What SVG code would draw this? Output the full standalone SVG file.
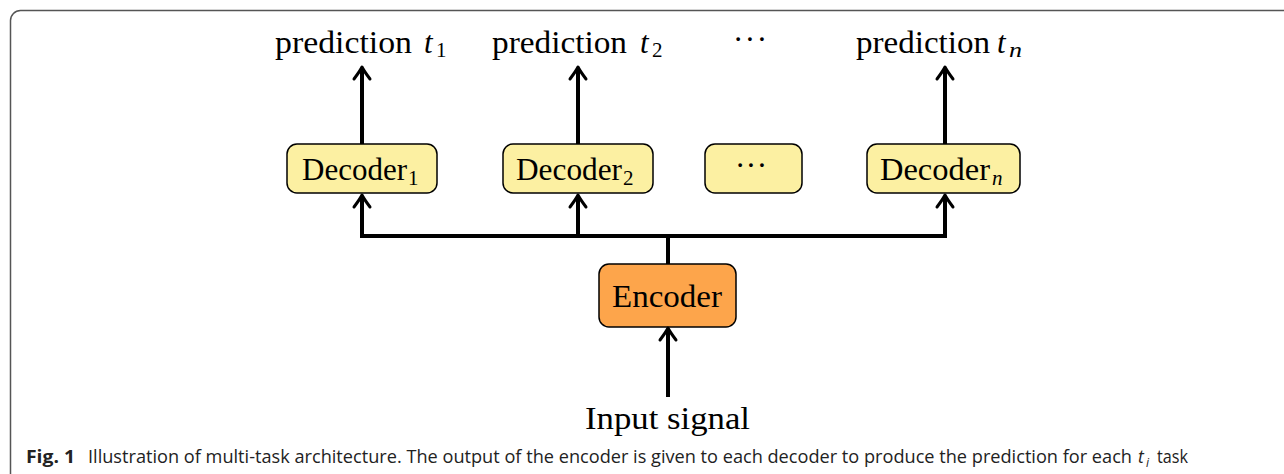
<svg xmlns="http://www.w3.org/2000/svg" width="1284" height="474" viewBox="0 0 1284 474">
<style>
.lbl{font-family:"Liberation Serif","Times New Roman",serif;font-size:31px;fill:#000}
.it{font-style:italic}
.sub{font-size:21px}
.dec{fill:#FCF0A2;stroke:#000;stroke-width:1.5}
.enc{fill:#FDA54B;stroke:#000;stroke-width:1.5}
.wire{fill:none;stroke:#000;stroke-width:4}
.cap{font-family:"Open Sans","Liberation Sans",sans-serif;font-size:17.5px;fill:#222}
</style>
<defs>
<marker id="arr" markerUnits="userSpaceOnUse" refX="-2" refY="0" orient="auto" overflow="visible" markerWidth="20" markerHeight="20">
<path d="M-12,-8 Q-4,-2 0,0 Q-4,2 -12,8" fill="none" stroke="#000" stroke-width="3" stroke-linecap="round" stroke-linejoin="round"/>
</marker>
</defs>
<path d="M10.5,480 V20.5 A10,10 0 0 1 20.5,10.5 H1290" fill="none" stroke="#555" stroke-width="1.5"/>

<g id="pred1">
<text class="lbl" x="275" y="53" textLength="137" lengthAdjust="spacingAndGlyphs">prediction</text>
<text class="lbl it" x="424" y="53">t</text>
<text class="lbl sub" x="436" y="57">1</text>
</g>
<g id="pred2">
<text class="lbl" x="492" y="53" textLength="135" lengthAdjust="spacingAndGlyphs">prediction</text>
<text class="lbl it" x="640" y="53">t</text>
<text class="lbl sub" x="652" y="57">2</text>
</g>
<g id="preddots">
<text class="lbl" x="733" y="50" textLength="34" lengthAdjust="spacing">···</text>
</g>
<g id="predn">
<text class="lbl" x="856" y="53" textLength="134" lengthAdjust="spacingAndGlyphs">prediction</text>
<text class="lbl it" x="997" y="53">t</text>
<text class="lbl sub it" x="1009" y="57" textLength="13" lengthAdjust="spacingAndGlyphs">n</text>
</g>

<g id="decoder1">
<rect class="dec" x="287" y="144" width="150" height="49" rx="10"/>
<text class="lbl" x="302" y="180" textLength="105" lengthAdjust="spacingAndGlyphs">Decoder</text>
<text class="lbl sub" x="408" y="185">1</text>
</g>
<g id="decoder2">
<rect class="dec" x="503" y="144" width="150" height="49" rx="10"/>
<text class="lbl" x="516" y="180" textLength="106" lengthAdjust="spacingAndGlyphs">Decoder</text>
<text class="lbl sub" x="623" y="185">2</text>
</g>
<g id="decoderdots">
<rect class="dec" x="705" y="144" width="97" height="49" rx="10"/>
<text class="lbl" x="735" y="176" textLength="32" lengthAdjust="spacing">···</text>
</g>
<g id="decodern">
<rect class="dec" x="867" y="144" width="153" height="49" rx="10"/>
<text class="lbl" x="880" y="180" textLength="110" lengthAdjust="spacingAndGlyphs">Decoder</text>
<text class="lbl sub it" x="992" y="185">n</text>
</g>

<g id="encoder">
<rect class="enc" x="599" y="264" width="137" height="63" rx="10"/>
<text class="lbl" x="612" y="307" textLength="110" lengthAdjust="spacingAndGlyphs">Encoder</text>
</g>

<g id="input">
<text class="lbl" x="585" y="429" textLength="165" lengthAdjust="spacingAndGlyphs">Input signal</text>
</g>

<g id="connectors">
<path class="wire" d="M362,144 V69" marker-end="url(#arr)"/>
<path class="wire" d="M578,144 V69" marker-end="url(#arr)"/>
<path class="wire" d="M945,144 V69" marker-end="url(#arr)"/>
<path class="wire" d="M668,264 V236"/>
<path class="wire" d="M362,236 H945" stroke-linejoin="miter"/>
<path class="wire" d="M362,238 V197" marker-end="url(#arr)"/>
<path class="wire" d="M578,236 V197" marker-end="url(#arr)"/>
<path class="wire" d="M945,238 V197" marker-end="url(#arr)"/>
<path class="wire" d="M668,397 V330" marker-end="url(#arr)"/>
</g>

<g id="caption">
<text class="cap" x="26" y="463" font-weight="bold" textLength="49" lengthAdjust="spacingAndGlyphs">Fig. 1</text>
<text class="cap" y="463"><tspan x="88" textLength="1044" lengthAdjust="spacingAndGlyphs">Illustration of multi-task architecture. The output of the encoder is given to each decoder to produce the prediction for each</tspan><tspan x="1138" font-style="italic">t</tspan><tspan x="1146" dy="4" font-size="12" font-style="italic">i</tspan><tspan x="1157" dy="-4" textLength="31" lengthAdjust="spacingAndGlyphs">task</tspan></text>
</g>
</svg>
